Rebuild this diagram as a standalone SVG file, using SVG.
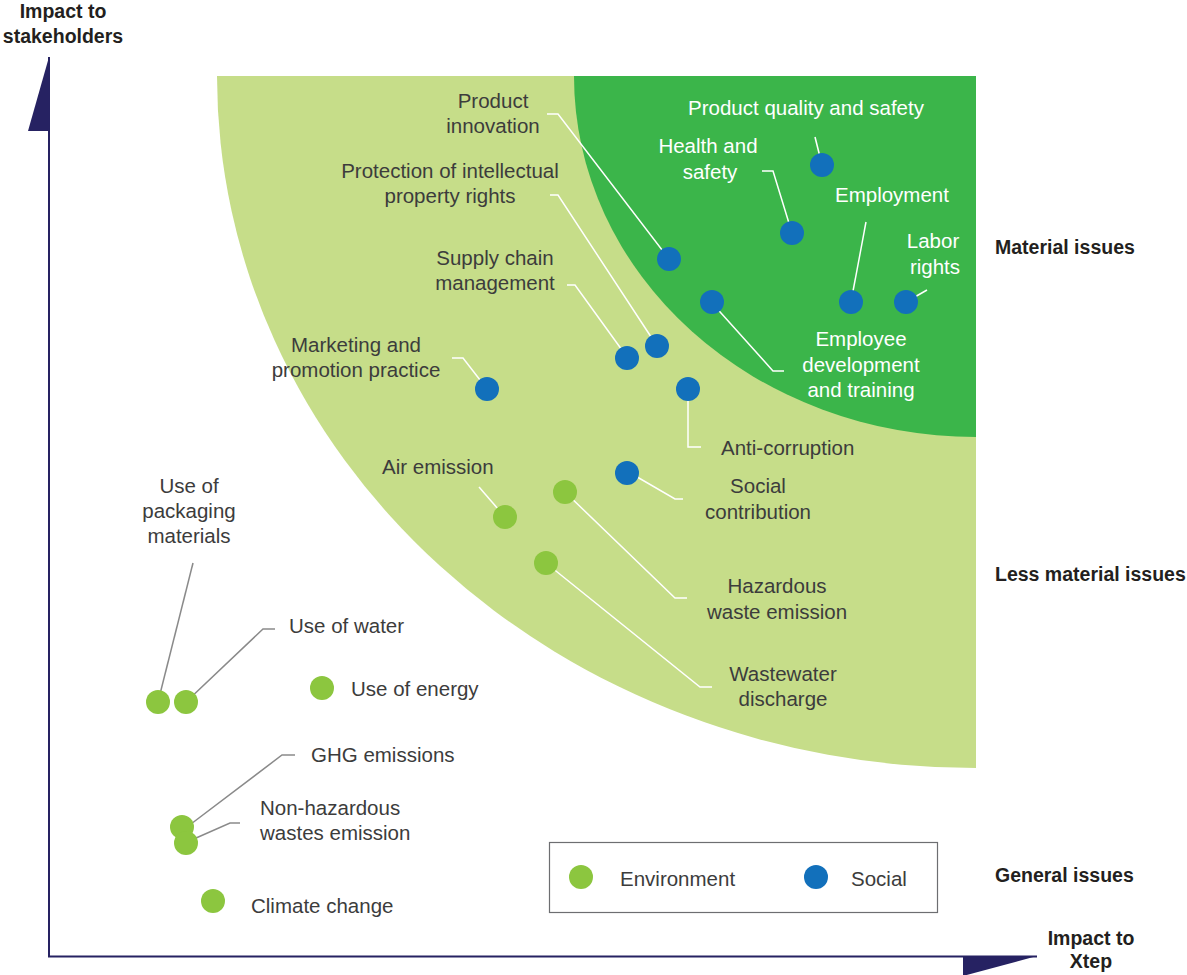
<svg xmlns="http://www.w3.org/2000/svg" width="1187" height="975" viewBox="0 0 1187 975">
<style>
.t{font-family:"Liberation Sans",Arial,sans-serif;font-size:20.5px;fill:#3c3c3c}
.w{fill:#ffffff}
.c{text-anchor:middle}
.b{font-family:"Liberation Sans",Arial,sans-serif;font-size:19.5px;font-weight:bold;fill:#231f20}
.soc{fill:#1270bb}
.env{fill:#8cc63f}
.lw{fill:none;stroke:#ffffff;stroke-width:1.5}
.lg{fill:none;stroke:#8a8a8a;stroke-width:1.5}
</style>
<rect width="1187" height="975" fill="#ffffff"/>
<g id="zones">
<path d="M217,76 L976,76 L976,768 A759,692 0 0 1 217,76 Z" fill="#c6dd89"/>
<path d="M574,76 L976,76 L976,437 A402,361 0 0 1 574,76 Z" fill="#3bb54a"/>
</g>
<g id="axes">
<line x1="49" y1="57" x2="49" y2="957" stroke="#262262" stroke-width="2"/>
<line x1="48" y1="956.5" x2="1037" y2="956.5" stroke="#262262" stroke-width="2"/>
<polygon points="49,57 28,131 49,131" fill="#262262"/>
<polygon points="963,956 1037,956 963,976" fill="#262262"/>
<text class="b c" x="63" y="18">Impact to</text>
<text class="b c" x="63" y="43">stakeholders</text>
<text class="b c" x="1091" y="945">Impact to</text>
<text class="b c" x="1091" y="968">Xtep</text>
<text class="b" x="995" y="254">Material issues</text>
<text class="b" x="995" y="581">Less material issues</text>
<text class="b" x="995" y="882">General issues</text>
</g>
<g id="connectors">
<polyline class="lw" points="815,137 822,165"/>
<polyline class="lw" points="762,171 773,171 792,233"/>
<polyline class="lw" points="866,222 851,302"/>
<polyline class="lw" points="927,290 906,302"/>
<polyline class="lw" points="712,303 773,371 784,371"/>
<polyline class="lw" points="547,114 558,114 669,259"/>
<polyline class="lw" points="550,195 558,195 657,346"/>
<polyline class="lw" points="567,285 575,285 627,357"/>
<polyline class="lw" points="452,358 463,358 487,389"/>
<polyline class="lw" points="688,389 688,447 701,447"/>
<polyline class="lw" points="632,474 675,499 683,499"/>
<polyline class="lw" points="479,487 505,517"/>
<polyline class="lw" points="565,492 675,598 687,598"/>
<polyline class="lw" points="546,563 700,687 712,687"/>
<polyline class="lg" points="193,563 158,702"/>
<polyline class="lg" points="275,629 263,629 186,702"/>
<polyline class="lg" points="295,755 282,755 187,827"/>
<polyline class="lg" points="240,823 230,823 187,842"/>
</g>
<g id="n-product-quality"><circle class="soc" cx="822" cy="165" r="12"/><text class="t w c" x="806" y="115">Product quality and safety</text></g>
<g id="n-health-safety"><circle class="soc" cx="792" cy="233" r="12"/><text class="t w c" x="708" y="153">Health and</text><text class="t w c" x="710" y="179">safety</text></g>
<g id="n-employment"><circle class="soc" cx="851" cy="302" r="12"/><text class="t w" x="835" y="202">Employment</text></g>
<g id="n-labor"><circle class="soc" cx="906" cy="302" r="12"/><text class="t w c" x="933" y="248">Labor</text><text class="t w c" x="935" y="274">rights</text></g>
<g id="n-employee-dev"><circle class="soc" cx="712" cy="302" r="12"/><text class="t w c" x="861" y="346">Employee</text><text class="t w c" x="861" y="372">development</text><text class="t w c" x="861" y="397">and training</text></g>
<g id="n-product-innovation"><circle class="soc" cx="669" cy="259" r="12"/><text class="t c" x="493" y="108">Product</text><text class="t c" x="493" y="133">innovation</text></g>
<g id="n-ip"><circle class="soc" cx="657" cy="346" r="12"/><text class="t c" x="450" y="178">Protection of intellectual</text><text class="t c" x="450" y="203">property rights</text></g>
<g id="n-supply"><circle class="soc" cx="627" cy="358" r="12"/><text class="t c" x="495" y="265">Supply chain</text><text class="t c" x="495" y="290">management</text></g>
<g id="n-marketing"><circle class="soc" cx="487" cy="389" r="12"/><text class="t c" x="356" y="352">Marketing and</text><text class="t c" x="356" y="377">promotion practice</text></g>
<g id="n-anticorruption"><circle class="soc" cx="688" cy="389" r="12"/><text class="t" x="721" y="455">Anti-corruption</text></g>
<g id="n-social-contribution"><circle class="soc" cx="627" cy="473" r="12"/><text class="t c" x="758" y="493">Social</text><text class="t c" x="758" y="519">contribution</text></g>
<g id="n-air"><circle class="env" cx="505" cy="517" r="12"/><text class="t" x="382" y="474">Air emission</text></g>
<g id="n-hazardous"><circle class="env" cx="565" cy="492" r="12"/><text class="t c" x="777" y="593">Hazardous</text><text class="t c" x="777" y="619">waste emission</text></g>
<g id="n-wastewater"><circle class="env" cx="546" cy="563" r="12"/><text class="t c" x="783" y="681">Wastewater</text><text class="t c" x="783" y="706">discharge</text></g>
<g id="n-packaging"><circle class="env" cx="158" cy="702" r="12"/><text class="t c" x="189" y="493">Use of</text><text class="t c" x="189" y="518">packaging</text><text class="t c" x="189" y="543">materials</text></g>
<g id="n-water"><circle class="env" cx="186" cy="702" r="12"/><text class="t" x="289" y="633">Use of water</text></g>
<g id="n-energy"><circle class="env" cx="322" cy="688" r="12"/><text class="t" x="351" y="696">Use of energy</text></g>
<g id="n-ghg"><circle class="env" cx="182" cy="827" r="12"/><text class="t" x="311" y="762">GHG emissions</text></g>
<g id="n-nonhaz"><circle class="env" cx="186" cy="843" r="12"/><text class="t" x="260" y="815">Non-hazardous</text><text class="t" x="260" y="840">wastes emission</text></g>
<g id="n-climate"><circle class="env" cx="213" cy="901" r="12"/><text class="t" x="251" y="913">Climate change</text></g>
<g id="legend">
<rect x="549.5" y="842.5" width="388" height="70" fill="#ffffff" stroke="#6d6e71" stroke-width="1.2"/>
<circle class="env" cx="581" cy="877" r="12"/><text class="t" x="620" y="886">Environment</text>
<circle class="soc" cx="816" cy="877" r="12"/><text class="t" x="851" y="886">Social</text>
</g>
</svg>
